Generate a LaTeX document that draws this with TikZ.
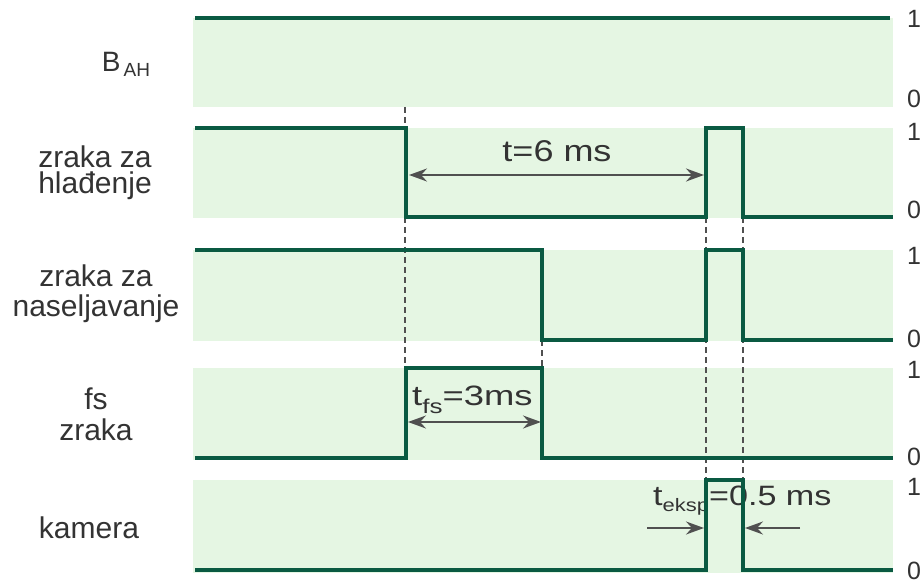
\documentclass[tikz,border=0pt]{standalone}
\usepackage{fontspec}
\setmainfont{Liberation Sans}
\usetikzlibrary{arrows.meta}
\definecolor{sig}{RGB}{10,90,66}
\definecolor{bandc}{RGB}{229,246,227}
\definecolor{annc}{RGB}{80,80,80}
\definecolor{txtc}{RGB}{51,51,51}
\begin{document}
\begin{tikzpicture}[x=1pt,y=-1pt,
  signal/.style={line width=4.3pt, draw=sig, line join=miter},
  bandbox/.style={fill=bandc},
  guide/.style={draw=annc, line width=1.4pt, dash pattern=on 6pt off 4pt},
  dimboth/.style={draw=annc, line width=2.2pt, {Stealth[length=18pt,width=13pt,inset=6pt]}-{Stealth[length=18pt,width=13pt,inset=6pt]}},
  dimone/.style={draw=annc, line width=2.2pt, -{Stealth[length=18pt,width=13pt,inset=6pt]}},
  lbl/.style={font=\fontsize{30}{27}\selectfont, text=txtc, inner sep=0pt, anchor=base, align=center},
  lvl/.style={font=\fontsize{25}{28}\selectfont, text=txtc, inner sep=0pt},
  annot/.style={text=txtc, inner sep=0pt}]
\useasboundingbox (0,0) rectangle (922,583);
\fill[white] (0,0) rectangle (922,583);
% bands
\fill[bandbox] (193,18) rectangle (893,107);
\fill[bandbox] (193,128) rectangle (893,218);
\fill[bandbox] (193,250) rectangle (893,341);
\fill[bandbox] (193,368) rectangle (893,460);
\fill[bandbox] (193,480) rectangle (893,573);
% guides
\draw[guide] (405,107) -- (405,368);
\draw[guide] (542,340) -- (542,368);
\draw[guide] (706,217) -- (706,480);
\draw[guide] (743,217) -- (743,480);
% annotations
\node[annot, anchor=base] (t6) at (557,162) {\scalebox{1.2}[1]{\fontsize{30}{32}\selectfont t=6 ms}};
\coordinate (a1) at (409,175); \coordinate (a2) at (704,175);
\draw[dimboth] (a1) -- (a2);
\node[annot, anchor=base west] (tfs) at (412,405) {\scalebox{1.3}[1]{\fontsize{28}{32}\selectfont t\raisebox{-8pt}{\fontsize{20}{20}\selectfont fs}=3ms}};
\coordinate (b1) at (408,422); \coordinate (b2) at (541,422);
\draw[dimboth] (b1) -- (b2);
\node[annot, anchor=base west] (teks) at (653,505) {\scalebox{1.22}[1]{\fontsize{28}{32}\selectfont t\raisebox{-6pt}{\fontsize{18}{18}\selectfont eksp}=0.5 ms}};
\coordinate (c1) at (647,528); \coordinate (c2) at (704,528);
\coordinate (d1) at (800,528); \coordinate (d2) at (745,528);
\draw[dimone] (c1) -- (c2);
\draw[dimone] (d1) -- (d2);
% signals
\draw[signal] (195,18) -- (890,18);
\draw[signal] (195,128) -- (406,128) -- (406,217) -- (706,217) -- (706,128) -- (743,128) -- (743,217) -- (893,217);
\draw[signal] (195,250) -- (542,250) -- (542,340) -- (706,340) -- (706,250) -- (743,250) -- (743,340) -- (893,340);
\draw[signal] (195,458) -- (406,458) -- (406,368) -- (542,368) -- (542,458) -- (893,458);
\draw[signal] (195,570) -- (706,570) -- (706,480) -- (743,480) -- (743,570) -- (893,570);
% left labels
\node[lbl, font=\fontsize{28}{30}\selectfont] (bah) at (126,72) {B\hspace{3pt}\raisebox{-5pt}{\fontsize{19}{19}\selectfont AH}};
\node[lbl] (hl) at (95,194) {zraka za\\hlađenje};
\node[lbl] (ns) at (96,316) {zraka za\\[2pt]naseljavanje};
\node[lbl, font=\fontsize{30}{31}\selectfont] (fz) at (96,440) {fs\\zraka};
\node[lbl] (km) at (89,538) {kamera};
% level labels
\node[lvl] (l11) at (914,19) {1};
\node[lvl] (l10) at (914,99) {0};
\node[lvl] (l21) at (914,132) {1};
\node[lvl] (l20) at (914,210) {0};
\node[lvl] (l31) at (914,256) {1};
\node[lvl] (l30) at (914,339) {0};
\node[lvl] (l41) at (914,370) {1};
\node[lvl] (l40) at (914,457) {0};
\node[lvl] (l51) at (914,487) {1};
\node[lvl] (l50) at (914,571) {0};
\end{tikzpicture}
\end{document}
